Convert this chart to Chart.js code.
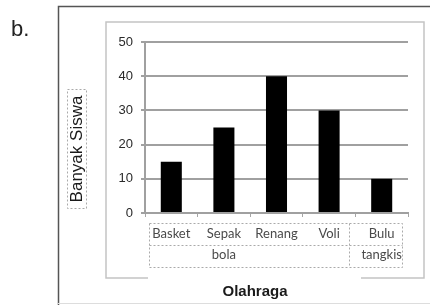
<!DOCTYPE html>
<html>
<head>
<meta charset="utf-8">
<script src="https://cdn.jsdelivr.net/npm/chart.js@4.4.1/dist/chart.umd.min.js"></script>
<style>
  html, body { margin: 0; padding: 0; background: #fff; }
  #wrap { width: 430px; height: 305px; position: relative; }
</style>
</head>
<body>
<div id="wrap"><canvas id="chart" width="430" height="305"></canvas></div>
<script>
// chart data
const categories = [["Basket"], ["Sepak", "bola"], ["Renang"], ["Voli"], ["Bulu", "tangkis"]];
const students = [15, 25, 40, 30, 10];
const yMin = 0;
const yMax = 50;
const yStep = 10;
const yTitle = "Banyak Siswa";
const xTitle = "Olahraga";
const panelLabel = "b.";

// frames, titles and the dotted text boxes around the labels
const decorations = {
  id: "decorations",
  beforeDraw(chart) {
    const ctx = chart.ctx;
    ctx.save();
    ctx.fillStyle = "#fff";
    ctx.fillRect(0, 0, chart.width, chart.height);

    // outer frame
    ctx.strokeStyle = "#555";
    ctx.lineWidth = 1.5;
    ctx.beginPath();
    ctx.moveTo(58.5, 305);
    ctx.lineTo(58.5, 6.5);
    ctx.lineTo(430, 6.5);
    ctx.stroke();
    ctx.strokeStyle = "#ddd";
    ctx.lineWidth = 1;
    ctx.beginPath();
    ctx.moveTo(58, 303.5);
    ctx.lineTo(430, 303.5);
    ctx.stroke();

    // inner frame
    ctx.strokeStyle = "#c4c4c4";
    ctx.lineWidth = 1.5;
    ctx.beginPath();
    ctx.moveTo(148, 278);
    ctx.lineTo(106, 278);
    ctx.lineTo(106, 22);
    ctx.lineTo(424, 22);
    ctx.lineTo(424, 278);
    ctx.lineTo(361, 278);
    ctx.stroke();

    ctx.fillStyle = "#222";
    ctx.font = "22px 'Liberation Sans', Arial, sans-serif";
    ctx.textBaseline = "alphabetic";
    ctx.textAlign = "left";
    ctx.fillText(panelLabel, 11, 36);
    ctx.restore();
  },
  afterDraw(chart) {
    const ctx = chart.ctx;
    const x = chart.scales.x;
    ctx.save();
    ctx.strokeStyle = "#aaa";
    ctx.lineWidth = 1;
    ctx.setLineDash([2, 2]);

    // box under the category labels
    const left = 149.5, right = 402.5, top = 223.5, bottom = 267.5;
    ctx.strokeRect(left, top, right - left, bottom - top);
    ctx.beginPath();
    ctx.moveTo(left, 245.5);
    ctx.lineTo(right, 245.5);
    const split = Math.round((x.getPixelForValue(3) + x.getPixelForValue(4)) / 2 - 6) + 0.5;
    ctx.moveTo(split, top);
    ctx.lineTo(split, bottom);
    ctx.stroke();

    // box around the y title
    ctx.strokeRect(67.5, 89.5, 19, 119);
    ctx.setLineDash([]);

    ctx.fillStyle = "#1a1a1a";
    ctx.textAlign = "center";
    ctx.textBaseline = "middle";
    ctx.save();
    ctx.translate(77, 149);
    ctx.rotate(-Math.PI / 2);
    ctx.font = "17px 'Liberation Sans', Arial, sans-serif";
    ctx.fillText(yTitle, 0, 0);
    ctx.restore();

    ctx.font = "bold 15px 'Liberation Sans', Arial, sans-serif";
    ctx.fillText(xTitle, 255, 292);
    ctx.restore();
  }
};

new Chart(document.getElementById("chart"), {
  type: "bar",
  data: {
    labels: categories,
    datasets: [{
      data: students,
      backgroundColor: "#000",
      borderWidth: 0,
      barPercentage: 0.4,
      categoryPercentage: 1
    }]
  },
  options: {
    responsive: false,
    animation: false,
    events: [],
    layout: { padding: { left: 60, top: 42, right: 22, bottom: 32 } },
    plugins: {
      legend: { display: false },
      tooltip: { enabled: false }
    },
    scales: {
      x: {
        offset: true,
        afterFit: s => { s.height = 60; },
        grid: {
          display: true,
          offset: true,
          drawOnChartArea: false,
          tickLength: 4,
          color: "#a6a6a6",
          lineWidth: 1
        },
        border: { color: "#a0a0a0", width: 2 },
        ticks: {
          autoSkip: false,
          maxRotation: 0,
          minRotation: 0,
          padding: 6,
          color: "#4a4a4a",
          font: { family: "Lato, 'Open Sans', sans-serif", size: 13, lineHeight: 1.65 }
        }
      },
      y: {
        min: yMin,
        max: yMax,
        z: 1,
        afterFit: s => { s.width = 85; },
        grid: {
          color: "#a0a0a0",
          lineWidth: 2,
          tickLength: 4
        },
        border: { color: "#a0a0a0", width: 2 },
        ticks: {
          stepSize: yStep,
          padding: 8,
          color: "#2a2a2a",
          font: { family: "'Liberation Sans', Arial, sans-serif", size: 13 }
        }
      }
    }
  },
  plugins: [decorations]
});
</script>
</body>
</html>
